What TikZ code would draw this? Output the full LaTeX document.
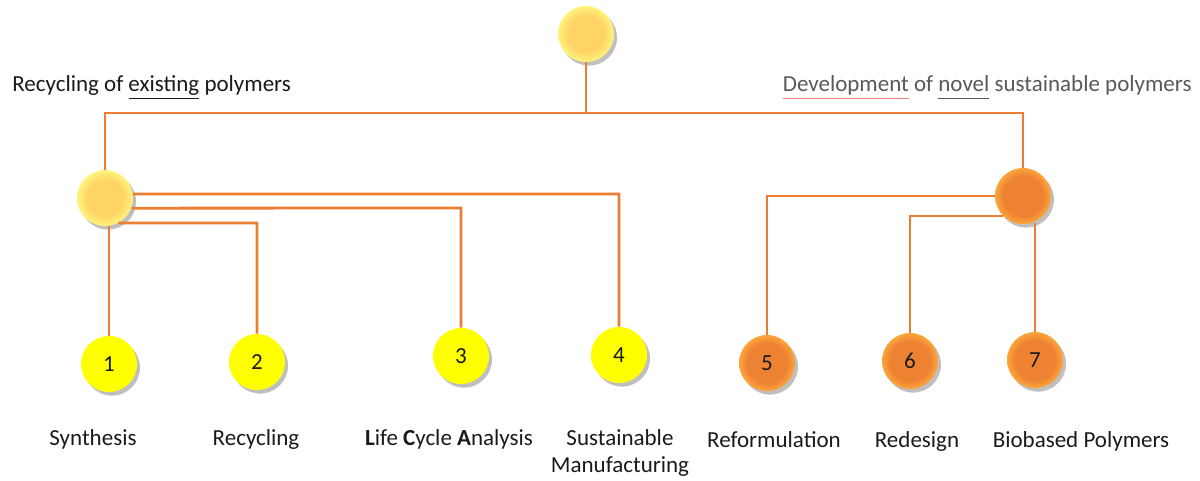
\documentclass[tikz,border=0pt]{standalone}
\usepackage{fontspec}
\setmainfont{Carlito}
\usetikzlibrary{shadows}
\definecolor{lineor}{HTML}{ED7D31}
\definecolor{paleIn}{HTML}{FFD466}
\definecolor{paleOut}{HTML}{FFF47E}
\definecolor{orIn}{HTML}{EE8233}
\definecolor{orOut}{HTML}{FCA63A}
\definecolor{ball}{HTML}{FFFF00}
\definecolor{txt}{HTML}{1A1A1A}
\definecolor{hdr}{HTML}{595959}
\definecolor{spell}{HTML}{F08080}
\pgfdeclareradialshading{orballsh}{\pgfpoint{0bp}{0bp}}{color(0bp)=(orIn); color(18bp)=(orIn); color(25bp)=(orOut); color(50bp)=(orOut)}
\pgfdeclareradialshading{paleballsh}{\pgfpoint{0bp}{0bp}}{color(0bp)=(paleIn); color(16bp)=(paleIn); color(25bp)=(paleOut); color(50bp)=(paleOut)}
\begin{document}
\begin{tikzpicture}[x=0.5pt,y=-0.5pt,
  conn/.style={draw=lineor, line width=1.4pt},
  ballbase/.style={circle, minimum size=28pt, inner sep=0pt, text=txt,
    font=\fontsize{11.5}{14}\selectfont,
    drop shadow={shadow xshift=1.5pt, shadow yshift=-1.8pt, opacity=0.25, fill=black}},
  yball/.style={ballbase, fill=ball},
  pball/.style={ballbase, shading=paleballsh},
  oball/.style={ballbase, shading=orballsh},
  lbl/.style={font=\fontsize{11.5}{13.5}\selectfont, text=txt, align=center, anchor=base, inner sep=0pt},
  hd/.style={font=\fontsize{11.5}{13.5}\selectfont, inner sep=0pt}
]
\useasboundingbox (0,0) rectangle (1200,481);

% nodes
\node[pball] (T) at (586,34) {};
\node[pball] (L) at (105,198) {};
\node[oball] (R) at (1023,196) {};
\node[yball] (b1) at (109,364) {1};
\node[yball] (b2) at (257,362) {2};
\node[yball] (b3) at (461,356) {3};
\node[yball] (b4) at (619,355) {4};
\node[oball] (b5) at (767,363) {5};
\node[oball] (b6) at (910,361) {6};
\node[oball] (b7) at (1035,360) {7};

% connectors
\coordinate (jt) at (586,113);
\coordinate (jl) at (105,113);
\coordinate (jr) at (1023,113);
\draw[conn] (T.south) -- (jt);
\draw[conn] (L.north) -- (jl) -- (jr) -- (R.north);

\coordinate (c4) at (619,194);
\coordinate (c3) at (461,208);
\coordinate (c2) at (257,223);
\draw[conn] (L.8) -- (c4) -- (b4.north);
\draw[conn] (L.-21) -- (c3) -- (b3.north);
\draw[conn] (L.-62) -- (c2) -- (b2.north);
\draw[conn] (b1.north) -- (b1.north |- L.south);

\draw[conn] (R.west) -- (b5.north |- R.west) -- (b5.north);
\draw[conn] (R.-135) -- (b6.north |- R.-135) -- (b6.north);
\draw[conn] (b7.north) -- (b7.north |- R.-70);

% headers
\node[hd, anchor=base west, text=txt] (h1) at (12,92) {Recycling of \underline{existing} polymers};
\node[hd, anchor=base east, text=hdr] (h2) at (1192,92) {{\color{spell}\underline{\textcolor{hdr}{Development}}} of \underline{novel\vphantom{p}} sustainable polymers};

% labels
\node[lbl] (l1) at (93,445) {Synthesis};
\node[lbl] (l2) at (256,445) {Recycling};
\node[lbl] (l3) at (449,445) {\textbf{L}ife \textbf{C}ycle \textbf{A}nalysis};
\node[lbl] (l4) at (620,472) {Sustainable\\Manufacturing};
\node[lbl] (l5) at (774,447) {Reformulation};
\node[lbl] (l6) at (917,447) {Redesign};
\node[lbl] (l7) at (1081,447) {Biobased Polymers};
\end{tikzpicture}
\end{document}
